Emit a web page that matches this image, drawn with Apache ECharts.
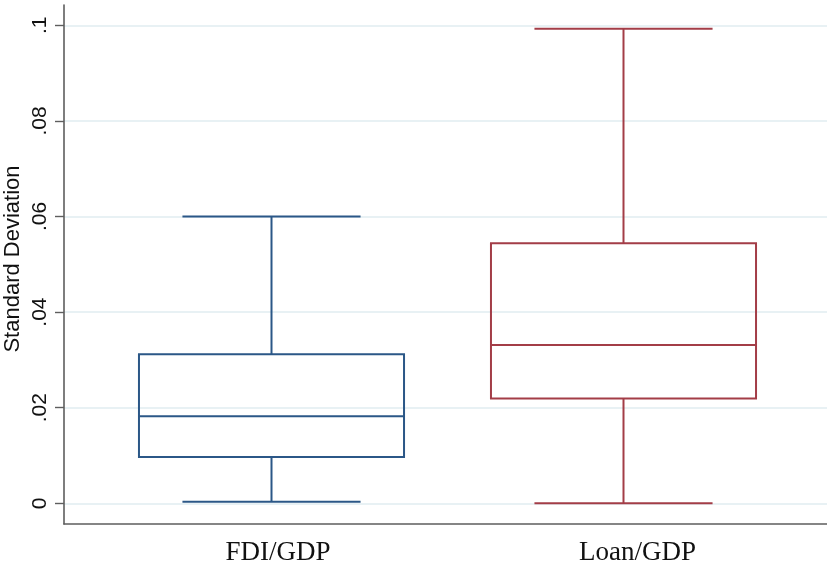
<!DOCTYPE html>
<html>
<head>
<meta charset="utf-8">
<script src="https://cdn.jsdelivr.net/npm/echarts@6/dist/echarts.min.js"></script>
<style>
  html, body { margin: 0; padding: 0; background: #fff; }
  #chart { width: 827px; height: 574px; }
</style>
</head>
<body>
<div id="chart"></div>
<script>
// Variables compared
const categories = ['FDI/GDP', 'Loan/GDP'];
// Box statistics for each variable: lower whisker, Q1, median, Q3, upper whisker
const whiskerLow = [0.0003, 0.0000];
const quartile1 = [0.0097, 0.0219];
const medians = [0.0182, 0.0331];
const quartile3 = [0.0312, 0.0544];
const whiskerHigh = [0.0600, 0.0993];
// Y axis ticks
const yTicks = [0, 0.02, 0.04, 0.06, 0.08, 0.1];
const yTickLabels = ['0', '.02', '.04', '.06', '.08', '.1'];

const boxColors = ['#2b5787', '#a33d47'];

const boxData = categories.map((c, i) => [i, whiskerLow[i], quartile1[i], medians[i], quartile3[i], whiskerHigh[i]]);

const sansFont = '"Liberation Sans", Arial, Helvetica, sans-serif';
const serifFont = '"Liberation Serif", "Times New Roman", serif';

const chart = echarts.init(document.getElementById('chart'));

// fixed plot rectangles, labels may sit outside them
const fixedGrid = (rect) => Object.assign({ containLabel: false, outerBoundsMode: 'none' }, rect);

chart.setOption({
  backgroundColor: '#ffffff',
  animation: false,
  grid: [
    // frame with the axis lines
    fixedGrid({ left: 64, right: 0, top: 5, bottom: 50 }),
    // value scale: ticks, labels, grid lines
    fixedGrid({ left: 64, right: 0, top: 25.3, bottom: 70.7 }),
    // boxes
    fixedGrid({ left: 95.5, right: 27.5, top: 25.3, bottom: 70.7 }),
    // category labels
    fixedGrid({ left: 98.25, right: 9.75, top: 25.3, bottom: 50 })
  ],
  xAxis: [
    {
      gridIndex: 0, type: 'category', data: categories,
      axisLine: { show: true, lineStyle: { color: '#5e5e5e', width: 1.6 } },
      axisTick: { show: false }, axisLabel: { show: false }, splitLine: { show: false }
    },
    {
      gridIndex: 1, type: 'category', data: categories,
      axisLine: { show: false }, axisTick: { show: false }, axisLabel: { show: false }, splitLine: { show: false }
    },
    {
      gridIndex: 2, type: 'category', data: categories,
      axisLine: { show: false }, axisTick: { show: false }, axisLabel: { show: false }, splitLine: { show: false }
    },
    {
      gridIndex: 3, type: 'category', data: categories,
      axisLine: { show: false }, axisTick: { show: false }, splitLine: { show: false },
      axisLabel: { show: true, margin: 15, color: '#111', fontFamily: serifFont, fontSize: 27 }
    }
  ],
  yAxis: [
    {
      gridIndex: 0, type: 'value', min: 0, max: 1,
      axisLine: { show: true, onZero: false, lineStyle: { color: '#5e5e5e', width: 1.6 } },
      axisTick: { show: false }, axisLabel: { show: false }, splitLine: { show: false },
      name: 'Standard Deviation', nameLocation: 'middle', nameGap: 40, nameRotate: 90,
      nameTextStyle: { color: '#111', fontFamily: sansFont, fontSize: 22, padding: [0, 0, 0, 11] }
    },
    {
      gridIndex: 1, type: 'value', min: yTicks[0], max: yTicks[yTicks.length - 1], interval: 0.02,
      axisLine: { show: false },
      axisTick: { show: true, length: 9, lineStyle: { color: '#5e5e5e', width: 1.4 } },
      axisLabel: {
        show: true, rotate: 90, margin: 13, color: '#111', fontFamily: sansFont, fontSize: 21,
        formatter: v => {
          const k = yTicks.findIndex(t => Math.abs(t - v) < 1e-9);
          return k >= 0 ? yTickLabels[k] : '';
        }
      },
      splitLine: { show: true, lineStyle: { color: '#e1edf1', width: 1.6 } }
    },
    {
      gridIndex: 2, type: 'value', min: yTicks[0], max: yTicks[yTicks.length - 1],
      axisLine: { show: false }, axisTick: { show: false }, axisLabel: { show: false }, splitLine: { show: false }
    },
    {
      gridIndex: 3, type: 'value', min: 0, max: 1,
      axisLine: { show: false }, axisTick: { show: false }, axisLabel: { show: false }, splitLine: { show: false }
    }
  ],
  series: [
    {
      type: 'custom',
      xAxisIndex: 2,
      yAxisIndex: 2,
      data: boxData,
      encode: { x: 0, y: [1, 2, 3, 4, 5] },
      renderItem: function (params, api) {
        const idx = api.value(0);
        const band = api.size([1, 0])[0];
        const halfBox = band * 0.753 / 2;
        const halfCap = band * 0.506 / 2;
        const pLow = api.coord([idx, api.value(1)]);
        const pQ1 = api.coord([idx, api.value(2)]);
        const pMed = api.coord([idx, api.value(3)]);
        const pQ3 = api.coord([idx, api.value(4)]);
        const pHigh = api.coord([idx, api.value(5)]);
        const cx = pMed[0];
        const style = { stroke: boxColors[params.dataIndex], lineWidth: 2, fill: null };
        const line = (x1, y1, x2, y2) => ({ type: 'line', shape: { x1, y1, x2, y2 }, style });
        return {
          type: 'group',
          children: [
            { type: 'rect', shape: { x: cx - halfBox, y: pQ3[1], width: 2 * halfBox, height: pQ1[1] - pQ3[1] }, style },
            line(cx - halfBox, pMed[1], cx + halfBox, pMed[1]),
            line(cx, pQ3[1], cx, pHigh[1]),
            line(cx, pQ1[1], cx, pLow[1]),
            line(cx - halfCap, pHigh[1], cx + halfCap, pHigh[1]),
            line(cx - halfCap, pLow[1], cx + halfCap, pLow[1])
          ]
        };
      }
    }
  ]
});
</script>
</body>
</html>
